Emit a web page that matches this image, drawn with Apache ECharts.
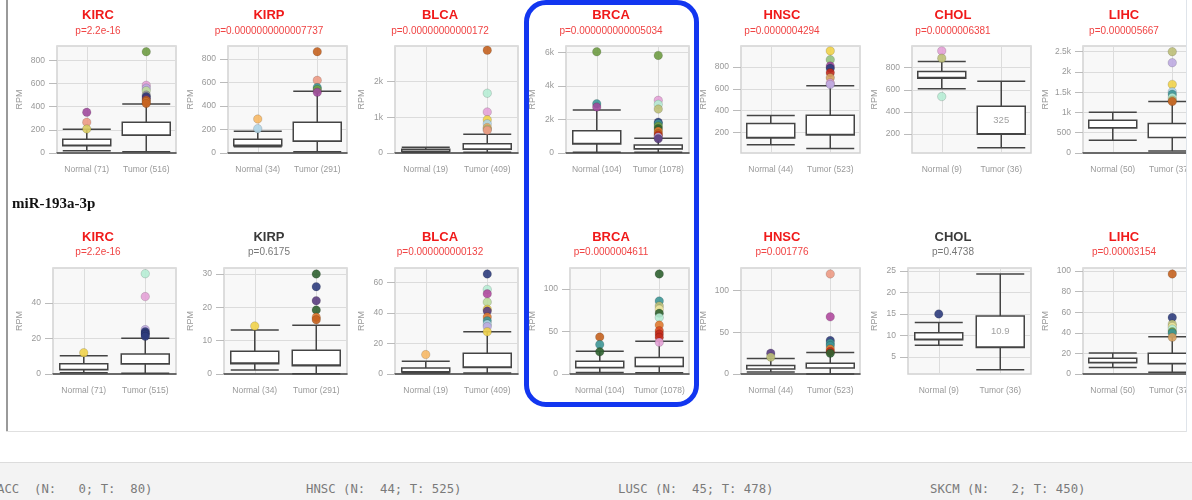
<!DOCTYPE html>
<html><head><meta charset="utf-8">
<script src="https://cdn.jsdelivr.net/npm/echarts@6/dist/echarts.min.js"></script>
<style>
html,body{margin:0;padding:0;background:#fff;width:1192px;height:500px;overflow:hidden;position:relative;font-family:'Liberation Sans',Arial,sans-serif}
#clip{position:absolute;left:0;top:0;width:1187px;height:432px;overflow:hidden}
#chart{position:absolute;left:0;top:0;width:1230px;height:432px}
#lb{position:absolute;left:6px;top:0;width:2px;height:432px;background:#9a9a9a}
#bb{position:absolute;left:6px;top:431px;width:1181px;height:1px;background:#e0e0e0}
#rb{position:absolute;left:1186px;top:0;width:1px;height:432px;background:#dfe4ea}
#blue{position:absolute;left:524px;top:0;width:175px;height:407px;border:5px solid #1236f0;border-radius:22px;box-sizing:border-box;pointer-events:none}
#mir{position:absolute;left:12px;top:195px;font:bold 15px 'Liberation Serif','DejaVu Serif',serif;color:#111;white-space:nowrap}
#foot{position:absolute;left:0;top:462px;width:1192px;height:38px;background:#f3f3f3;border-top:1px solid #dcdcdc}
.f{position:absolute;top:19px;font:12.3px 'DejaVu Sans Mono',monospace;line-height:15px;color:#7a7a7a;white-space:pre}
</style>
</head><body>
<div id="clip"><div id="chart"></div></div>
<div id="lb"></div><div id="bb"></div><div id="rb"></div>
<div id="mir">miR-193a-3p</div>
<div id="blue"></div>
<div id="foot"></div>
<script>
// ---------- Row 1 data ----------
const cancers1 = ['KIRC','KIRP','BLCA','BRCA','HNSC','CHOL','LIHC'];
const pText1 = ['p=2.2e-16','p=0.0000000000007737','p=0.00000000000172','p=0.000000000005034','p=0.0000004294','p=0.0000006381','p=0.000005667'];
const normalN1 = [71,34,19,104,44,9,50];
const tumorN1 = [516,291,409,1078,523,36,371];
const normalBox1 = [[20,63,66,118,204],[54,62,66,117,185],[19,47,50,104,161],[40,540,560,1320,2560],[85,147,150,279,354],[609,705,710,764,855],[314,619,623,809,1007]];
const tumorBox1 = [[10,153,156,265,423],[11,100,103,261,525],[20,105,110,256,523],[40,240,255,480,880],[50,175,178,357,628],[78,200,204,451,678],[50,381,385,728,1272]];
const normalOut1 = [[351,265,207],[289,207],[],[6036,2940,2740],[],[951,885,539],[]];
const tumorOut1 = [[874,584,560,538,500,486,470,455,440,428],[862,618,556,540,516],[2870,1670,1147,930,815,710,670,635],[5820,3140,2900,2620,1840,1750,1600,1450,1300,1150,1050,950,850],[950,869,810,790,748,703,654,640],[],[2500,2228,1693,1510,1450,1370,1304,1270]];
const medianLabel1 = [null,null,null,null,null,325,null];
const yMin1 = [0,0,0,0,8,30,0];
const yMax1 = [923,910,2990,6380,995,995,2640];
const yStep1 = [200,200,1000,2000,null,null,500];

// ---------- Row 2 data (miR-193a-3p) ----------
const cancers2 = ['KIRC','KIRP','BLCA','BRCA','HNSC','CHOL','LIHC'];
const pText2 = ['p=2.2e-16','p=0.6175','p=0.000000000132','p=0.0000004611','p=0.001776','p=0.4738','p=0.00003154'];
const normalN2 = [71,34,19,104,44,9,50];
const tumorN2 = [515,291,409,1078,523,36,371];
const normalBox2 = [[0.75,2.4,2.6,5.8,10.3],[1.2,3.1,3.3,6.8,13.2],[0.6,1.3,1.5,3.9,8.4],[1.9,7.4,7.6,15.1,26.7],[2.4,5.9,6.1,10.3,18.6],[7.7,9.0,9.1,10.6,13.0],[6.4,10.9,11.1,15.4,20.5]];
const tumorBox2 = [[0.4,5.6,5.8,11.3,20.1],[0.1,2.5,2.7,7.1,14.6],[0.6,4.3,4.5,13.6,27.6],[1.6,8.9,9.1,19.4,38.4],[0,7.1,7.3,13,25.7],[2.0,7.2,7.3,14.5,24.3],[1.6,9.9,10.1,20.2,36.2]];
const normalOut2 = [[12.0],[14.4],[12.7],[43.4,34.5,26],[24.9,20.2],[15],[]];
const tumorOut2 = [[56.5,43.6,25,23.8,23,22.3,21.2],[30,26.2,22,19.2,17,16.3],[65.4,55.3,52.4,47,42.3,41.2,37.3,34.8,32.6,31,27.6],[117.4,85.7,79.8,76,71.3,66.3,57.4,50.8,47,43,37.2],[119.8,68.4,40,36.8,34,30,27,24.9],[],[97.1,54.8,48.4,46,43.6,41,39.7,35.6]];
const medianLabel2 = [null,null,null,null,null,10.9,null];
const yMin2 = [0,0,0,0,0,1,0];
const yMax2 = [59.7,31.8,69.3,124.4,126.9,25.7,102.9];
const yStep2 = [20,10,20,50,50,null,20];

// ---------- footer ----------
const footCodes = ['ACC','HNSC','LUSC','SKCM'];
const footN = [0,44,45,2];
const footT = [80,525,478,450];

// ---------- styles ----------
const C = {purple:'#a04a9c', salmon:'#ec9a84', oliveY:'#d9cc62', green:'#6e9b43', pink:'#e3a1d6', lgreen:'#bddc9c',
  dpurple:'#5a3d7e', brown:'#c4621f', lorange:'#f6b866', lblue:'#aed4e6', teal:'#3e9696', mint:'#b6ecd4',
  yellow:'#f0d24a', navy:'#2d3c7c', dgreen:'#2f6030', red:'#c22a1c', lav:'#bcaae0', olive:'#bcbf78',
  gray:'#9a9a9a', magenta:'#b04a9e', lyellow:'#ece5a0', orange:'#e07a30', tan:'#d3a060', mgreen:'#93c27f', ored:'#d84a20'};
const normalCol1 = [[C.purple,C.salmon,C.oliveY],[C.lorange,C.lblue],[],[C.green,C.teal,C.purple],[],[C.pink,C.olive,C.mint],[]];
const tumorCol1 = [[C.green,C.pink,C.lav,C.lgreen,C.gray,C.navy,C.dpurple,C.brown,C.orange,C.brown],
  [C.brown,C.salmon,C.teal,C.green,C.purple],
  [C.brown,C.mint,C.pink,C.yellow,C.lblue,C.lorange,C.olive,C.salmon],
  [C.green,C.pink,C.mint,C.olive,C.navy,C.teal,C.green,C.dgreen,C.orange,C.brown,C.red,C.lav,C.dpurple],
  [C.yellow,C.mgreen,C.purple,C.navy,C.red,C.tan,C.pink,C.lav],[],
  [C.olive,C.lav,C.yellow,C.lblue,C.teal,C.mint,C.olive,C.brown]];
const normalCol2 = [[C.yellow],[C.yellow],[C.lorange],[C.brown,C.teal,C.dgreen],[C.dpurple,C.olive],[C.navy],[]];
const tumorCol2 = [[C.mint,C.pink,C.lav,C.navy,C.navy,C.navy,C.navy],
  [C.dgreen,C.navy,C.dpurple,C.dgreen,C.orange,C.brown],
  [C.navy,C.mint,C.magenta,C.lgreen,C.yellow,C.dpurple,C.orange,C.teal,C.lblue,C.lav,C.yellow],
  [C.dgreen,C.teal,C.olive,C.lyellow,C.dgreen,C.mint,C.orange,C.ored,C.red,C.red,C.pink],
  [C.salmon,C.magenta,C.navy,C.teal,C.teal,C.orange,C.red,C.dgreen],[],
  [C.brown,C.navy,C.olive,C.lyellow,C.mint,C.green,C.teal,C.tan]];

const rowTop = [46, 268], plotH = [107, 106], titleY = [15, 237], pY = [31, 252];
const plotWidth1 = [119,119,123,123,119,119,119];
const plotWidth2 = [123,123,123,119,119,123,119];
const FONT = '"Liberation Sans", Arial, sans-serif';

const grids = [], xAxes = [], yAxes = [], series = [], graphics = [];
function fmtK(v){ return v >= 1000 ? (v/1000) + 'k' : String(v); }

function addRow(r, cancers, pText, nN, tN, nBox, tBox, nOut, tOut, nCol, tCol, medLab, yMin, yMax, yStep, widths){
  for (let i = 0; i < cancers.length; i++){
    const k = grids.length;
    const right = 176 + 171*i, w = widths[i], left = right - w;
    const rpmX = 20 + 171*i, tx = 98 + 171*i;
    const p = parseFloat(pText[i].slice(2));
    const sig = p < 0.05;
    grids.push({left, top: rowTop[r], width: w, height: plotH[r], show: true,
      backgroundColor: '#f8f8f8', borderColor: '#d2d2d2', borderWidth: 1.5, containLabel: false});
    xAxes.push({type:'category', gridIndex:k, data:['Normal (' + nN[i] + ')', 'Tumor (' + tN[i] + ')'],
      boundaryGap:true,
      axisLine:{show: yMin[i] === 0, onZero:false, lineStyle:{color:'#444', width:1.5}},
      axisTick:{show:false},
      axisLabel:{interval:0, fontSize:8.5, color:'#999', margin:12, fontFamily:FONT},
      splitLine:{show:true, alignWithLabel:true, lineStyle:{color:'#dcdcdc', width:1}}});
    const ya = {type:'value', gridIndex:k, min:yMin[i], max:yMax[i], splitNumber:5,
      axisLine:{show:false}, axisTick:{show:true, length:8, lineStyle:{color:'#bbb'}},
      axisLabel:{fontSize:8.5, color:'#999', margin:12, fontFamily:FONT, formatter:fmtK,
        showMaxLabel:false, showMinLabel: yMin[i] === 0},
      splitLine:{show:true, lineStyle:{color:'#dcdcdc', width:1}},
      name:'RPM', nameLocation:'middle', nameGap: left - rpmX - 4.5,
      nameTextStyle:{fontSize:9, color:'#999', fontFamily:FONT}};
    if (yStep[i]) ya.interval = yStep[i];
    yAxes.push(ya);
    series.push({type:'boxplot', xAxisIndex:k, yAxisIndex:k, data:[nBox[i], tBox[i]],
      boxWidth:[48,48], itemStyle:{color:'#fff', borderColor:'#444', borderWidth:1.5},
      emphasis:{disabled:true}, z:2});
    const pts = [];
    nOut[i].forEach((v,j) => pts.push({value:[0, v], itemStyle:{color: nCol[i][j]}}));
    tOut[i].forEach((v,j) => pts.push({value:[1, v], itemStyle:{color: tCol[i][j]}}));
    series.push({type:'scatter', xAxisIndex:k, yAxisIndex:k, data:pts, symbolSize:8.5,
      itemStyle:{opacity:0.9, borderColor:'rgba(0,0,0,0.25)', borderWidth:0.6},
      emphasis:{disabled:true}, z:3});
    if (medLab[i] !== null){
      series.push({type:'scatter', xAxisIndex:k, yAxisIndex:k, data:[[1, medLab[i]]], symbolSize:1,
        itemStyle:{color:'rgba(0,0,0,0)'},
        label:{show:true, position:'inside', formatter: String(medLab[i]), fontSize:9.5, color:'#888', fontFamily:FONT},
        emphasis:{disabled:true}, z:4});
    }
    graphics.push({type:'text', x:tx, y:titleY[r], silent:true,
      style:{text:cancers[i], fill: sig ? '#f01a1a' : '#3a3a3a', font:'bold 13px ' + FONT, align:'center', verticalAlign:'middle'}});
    graphics.push({type:'text', x:tx, y:pY[r], silent:true,
      style:{text:pText[i], fill: sig ? '#f04444' : '#777', font:'10px ' + FONT, align:'center', verticalAlign:'middle'}});
  }
}
addRow(0, cancers1, pText1, normalN1, tumorN1, normalBox1, tumorBox1, normalOut1, tumorOut1, normalCol1, tumorCol1, medianLabel1, yMin1, yMax1, yStep1, plotWidth1);
addRow(1, cancers2, pText2, normalN2, tumorN2, normalBox2, tumorBox2, normalOut2, tumorOut2, normalCol2, tumorCol2, medianLabel2, yMin2, yMax2, yStep2, plotWidth2);

const chart = echarts.init(document.getElementById('chart'), null, {renderer:'canvas'});
chart.setOption({animation:false, backgroundColor:'transparent', grid:grids, xAxis:xAxes, yAxis:yAxes, series, graphic:graphics, tooltip:{show:false}});

// footer
const foot = document.getElementById('foot');
const footX = [-3, 306, 618, 930];
function pad(n, w){ let s = String(n); while (s.length < w) s = ' ' + s; return s; }
footCodes.forEach((c,i) => {
  const d = document.createElement('div');
  d.className = 'f';
  d.style.left = footX[i] + 'px';
  d.textContent = c.padEnd(4, ' ') + ' (N: ' + pad(footN[i],3) + '; T: ' + pad(footT[i],3) + ')';
  foot.appendChild(d);
});
</script>
</body></html>
